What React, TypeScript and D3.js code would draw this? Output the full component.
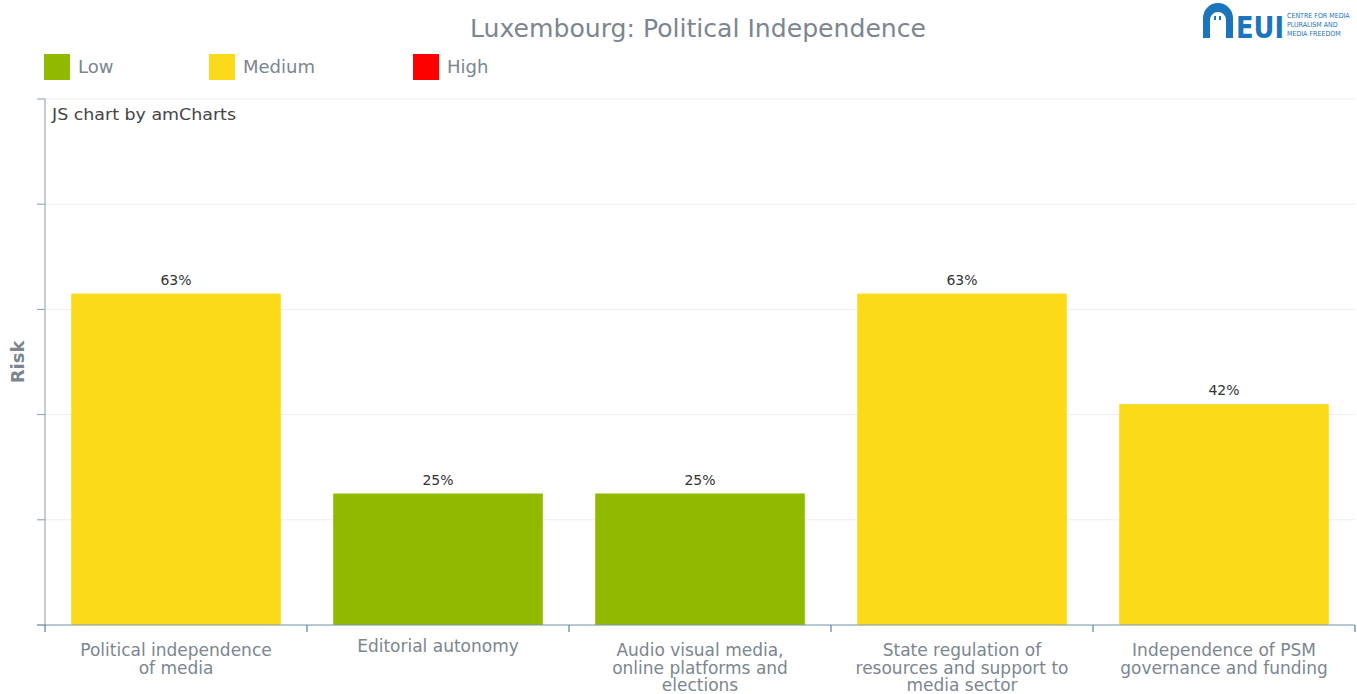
import React from "react";
import * as d3 from "d3";

const categories = [
  ["Political independence", "of media"],
  ["Editorial autonomy"],
  ["Audio visual media,", "online platforms and", "elections"],
  ["State regulation of", "resources and support to", "media sector"],
  ["Independence of PSM", "governance and funding"],
];
const values = [63, 25, 25, 63, 42];
const levels = ["Medium", "Low", "Low", "Medium", "Medium"];
const legendItems = ["Low", "Medium", "High"];
const levelColors: Record<string, string> = { Low: "#8fba00", Medium: "#fbdb19", High: "#ff0000" };
const yTicks = [0, 20, 40, 60, 80, 100];
const logoLines = ["CENTRE FOR MEDIA", "PLURALISM AND", "MEDIA FREEDOM"];

const W = 1357, H = 694;
const left = 45, right = 1355, top = 99, bottom = 625;
const FONT = "Verdana, 'DejaVu Sans', sans-serif";

export default function App() {
  const x = d3.scaleBand<number>().domain(d3.range(values.length)).range([left, right]).paddingInner(0.2).paddingOuter(0.1);
  const y = d3.scaleLinear().domain([0, 100]).range([bottom, top]);
  const step = x.step();
  const legendX = [44, 209, 413];
  return (
    <div style={{ position: "absolute", left: 0, top: 0 }}>
      <svg width={W} height={H} style={{ display: "block", fontFamily: FONT }}>
        <rect width={W} height={H} fill="#fff" />
        <text x={698} y={37} textAnchor="middle" fontSize={24} fill="#7b8690" textLength={456} lengthAdjust="spacingAndGlyphs">Luxembourg: Political Independence</text>
        {/* logo */}
        <g>
          <path d="M1203,38 L1203,18 A15,15 0 0 1 1233,18 L1233,38 L1226,38 L1226,20 A8,8 0 0 0 1210,20 L1210,38 Z" fill="#1b75bc" />
          <rect x={1214} y={16} width={2} height={4} fill="#1b75bc" />
          <rect x={1219} y={16} width={2} height={4} fill="#1b75bc" />
          <text x={1236} y={38} fontSize={30} fontWeight="bold" fill="#1b75bc" fontFamily="'Liberation Sans Narrow', 'DejaVu Sans Condensed', sans-serif" textLength={48} lengthAdjust="spacingAndGlyphs">EUI</text>
          {logoLines.map((ln, i) => (
            <text key={i} x={1287} y={18 + i * 9} fontSize={7} fill="#1b75bc" fontFamily="'DejaVu Sans Condensed', sans-serif">{ln}</text>
          ))}
        </g>
        {/* legend */}
        {legendItems.map((l, i) => (
          <g key={l}>
            <rect x={legendX[i]} y={54} width={26} height={26} fill={levelColors[l]} />
            <text x={legendX[i] + 34} y={73} fontSize={18} fill="#7b8690">{l}</text>
          </g>
        ))}
        {/* grid */}
        {yTicks.map((t) => (
          <g key={t}>
            <line x1={left} x2={right} y1={y(t)} y2={y(t)} stroke="#eeeeee" />
            <line x1={left - 8} x2={left} y1={y(t)} y2={y(t)} stroke="#8a9aa6" />
          </g>
        ))}
        <text x={52} y={120} fontSize={16} fill="#444" textLength={184} lengthAdjust="spacingAndGlyphs">JS chart by amCharts</text>
        {/* bars */}
        {values.map((v, i) => (
          <g key={i}>
            <rect x={x(i)!} y={y(v)} width={x.bandwidth()} height={bottom - y(v)} fill={levelColors[levels[i]]} />
            <text x={x(i)! + x.bandwidth() / 2} y={y(v) - 9} textAnchor="middle" fontSize={14} fill="#333">{v}%</text>
          </g>
        ))}
        {/* axes */}
        <line x1={left} x2={left} y1={top} y2={bottom} stroke="#8a9aa6" />
        <line x1={left - 8} x2={right} y1={bottom} y2={bottom} stroke="#7a9ab0" />
        {d3.range(values.length + 1).map((i) => (
          <line key={i} x1={left + i * step} x2={left + i * step} y1={bottom} y2={bottom + 7} stroke="#3d6a8a" />
        ))}
        {categories.map((lines, i) => (
          <text key={i} textAnchor="middle" fontSize={17} fill="#7b8690">
            {lines.map((ln, j) => (
              <tspan key={j} x={x(i)! + x.bandwidth() / 2} y={(lines.length === 1 ? 652 : 656) + j * 17.5}>{ln}</tspan>
            ))}
          </text>
        ))}
        <text transform={`translate(24,${(top + bottom) / 2}) rotate(-90)`} textAnchor="middle" fontSize={18} fontWeight="bold" fill="#7b8690">Risk</text>
      </svg>
    </div>
  );
}
